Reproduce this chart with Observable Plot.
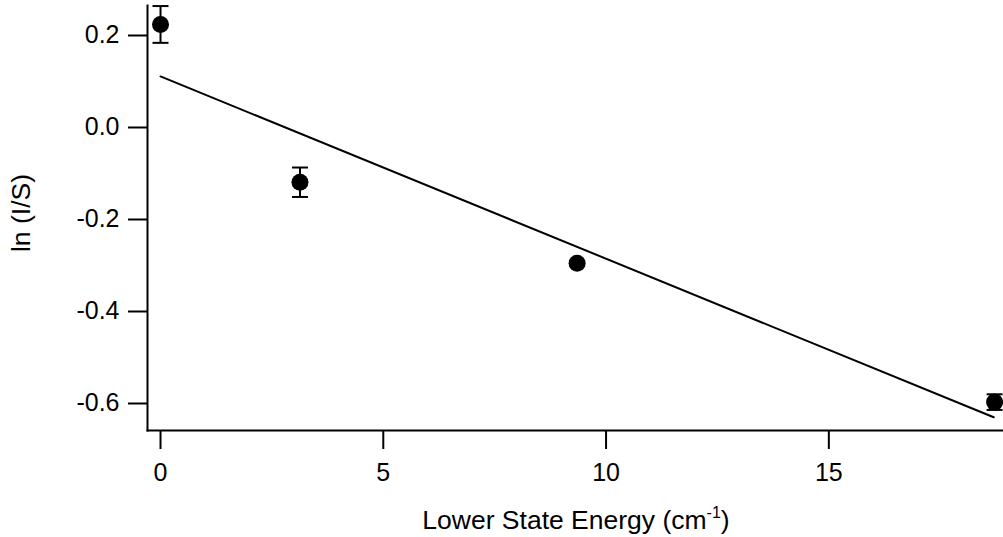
<!DOCTYPE html>
<html>
<head>
<meta charset="utf-8">
<script src="https://cdn.jsdelivr.net/npm/d3@7"></script>
<script src="https://cdn.jsdelivr.net/npm/@observablehq/plot@0.6"></script>
<style>
  html, body { margin: 0; padding: 0; background: white; }
  #chart svg { display: block; }
</style>
</head>
<body>
<div id="chart"></div>
<script>
// Data
const energy = [0, 3.13, 9.35, 18.72];          // Lower State Energy (cm^-1)
const lnIS = [0.224, -0.119, -0.295, -0.597];   // ln (I/S)
const errBar = [0.040, 0.032, 0.005, 0.017];    // +/- error
const fitEnergy = [0, 18.70];                   // fitted line endpoints (x)
const fitLnIS = [0.111, -0.630];                // fitted line endpoints (y)
const xTicks = [0, 5, 10, 15];
const yTicks = [-0.6, -0.4, -0.2, 0.0, 0.2];
const xLabel = "Lower State Energy (cm";
const xLabelSup = "-1";
const yLabel = "ln (I/S)";

const pts = energy.map((x, i) => ({x, y: lnIS[i], lo: lnIS[i] - errBar[i], hi: lnIS[i] + errBar[i]}));
const fit = fitEnergy.map((x, i) => ({x, y: fitLnIS[i]}));

const capSymbol = {draw(ctx) { ctx.moveTo(-8, 0); ctx.lineTo(8, 0); }};

const chart = Plot.plot({
  width: 1003,
  height: 537,
  marginLeft: 147,
  marginRight: 0,
  marginTop: 5,
  marginBottom: 107,
  style: {fontFamily: "'Liberation Sans', Arial, sans-serif", fontSize: "25px", color: "black", background: "white"},
  x: {domain: [-0.292, 18.92]},
  y: {domain: [-0.6587, 0.2652]},
  marks: [
    Plot.axisY(yTicks, {tickSize: 19, tickPadding: 9, tickFormat: d => d.toFixed(1), strokeWidth: 2, fontSize: 25, label: null}),
    Plot.axisX(xTicks, {tickSize: 19, tickPadding: 14, tickFormat: d => String(d), strokeWidth: 2, fontSize: 25, label: null}),
    Plot.frame({anchor: "left", strokeWidth: 2}),
    Plot.frame({anchor: "bottom", strokeWidth: 2}),
    Plot.line(fit, {x: "x", y: "y", stroke: "black", strokeWidth: 2}),
    Plot.ruleX(pts, {x: "x", y1: "lo", y2: "hi", stroke: "black", strokeWidth: 2}),
    Plot.dot(pts, {x: "x", y: "hi", symbol: capSymbol, fill: "none", stroke: "black", strokeWidth: 2}),
    Plot.dot(pts, {x: "x", y: "lo", symbol: capSymbol, fill: "none", stroke: "black", strokeWidth: 2}),
    Plot.dot(pts, {x: "x", y: "y", r: 8.5, fill: "black", stroke: "none"})
  ]
});

const svg = d3.select(chart);
const xl = svg.append("text")
  .attr("x", 576).attr("y", 529)
  .attr("text-anchor", "middle")
  .attr("font-size", 26.5)
  .attr("fill", "black");
xl.append("tspan").text(xLabel);
xl.append("tspan").attr("dy", -11).attr("font-size", 16).text(xLabelSup);
xl.append("tspan").attr("dy", 11).text(")");

svg.append("text")
  .attr("transform", "translate(21,213) rotate(-90)")
  .attr("text-anchor", "middle")
  .attr("dominant-baseline", "central")
  .attr("font-size", 26.5)
  .attr("fill", "black")
  .text(yLabel);

document.getElementById("chart").append(chart);
</script>
</body>
</html>
